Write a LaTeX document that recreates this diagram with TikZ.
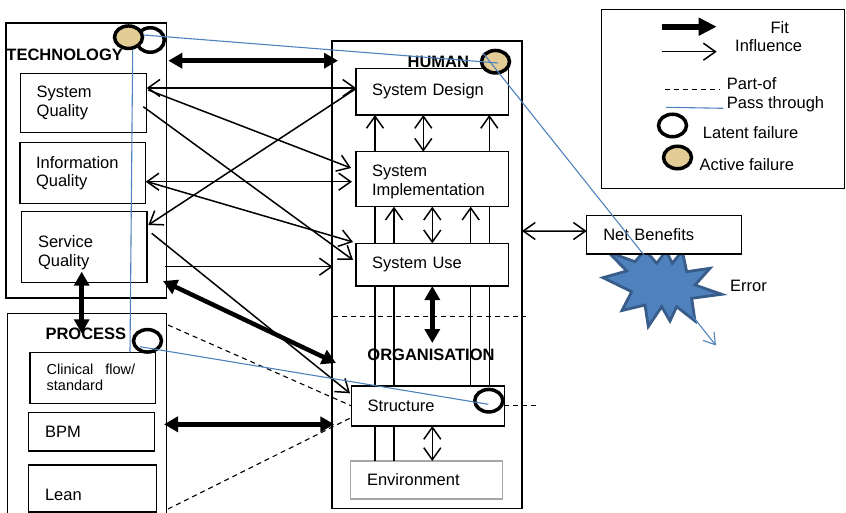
\documentclass[tikz,border=0pt]{standalone}
\usepackage{fontspec}
\setmainfont{Liberation Sans}
\usetikzlibrary{arrows.meta,calc,shapes.geometric}
\definecolor{failtan}{RGB}{228,204,150}
\definecolor{passblue}{RGB}{79,129,189}
\definecolor{starfill}{RGB}{79,129,189}
\definecolor{stardraw}{RGB}{56,93,138}
\tikzset{
  bx/.style={draw, line width=1.4pt, fill=white, rectangle, anchor=north west, outer sep=0pt, align=left, inner ysep=0pt},
  grpbox/.style={draw, line width=1.4pt, rectangle, anchor=north west, outer sep=0pt, inner sep=0pt},
  lbl/.style={font=\fontsize{16.5}{18.5}\selectfont\bfseries, inner sep=0pt},
  txt/.style={inner sep=0pt},
  inf/.style={line width=1.5pt},
  fitarrow/.style={line width=4.5pt, {Triangle[length=14pt,width=15pt]}-{Triangle[length=14pt,width=15pt]}},
  partof/.style={line width=1.1pt, dash pattern=on 5pt off 4pt},
  pass/.style={draw=passblue, line width=1.1pt},
  latent/.style={ellipse, draw, line width=3.5pt, minimum width=28pt, minimum height=22.5pt, inner sep=0pt},
  active/.style={latent, fill=failtan},
}
\begin{document}
\begin{tikzpicture}[x=1pt, y=-1pt, font=\fontsize{16.5}{18.5}\selectfont,
  >={Straight Barb[length=12pt,width=17pt]}]
\useasboundingbox (0,0) rectangle (846,513);

% error star
\draw[draw=stardraw, fill=starfill, line width=2.8pt, line join=miter]
  (603,277.7) -- (626.7,271) -- (608.3,252) -- (635,261.7) -- (645,250) -- (656.7,263.3)
  -- (666,251) -- (672.3,263.3) -- (682.3,251) -- (686.7,271.7) -- (710,268.3) -- (695,285)
  -- (721.7,294.3) -- (691.7,298.3) -- (695,321) -- (676.7,306.7) -- (670,321) -- (661.7,306.7)
  -- (648.3,326.5) -- (645,305) -- (622,310.5) -- (631.7,291.7) -- cycle;

% group boxes
\node[grpbox, minimum width=160.7pt, minimum height=275pt] (tech) at (6,23) {};
\node[grpbox, minimum width=190pt, minimum height=467.3pt] (human) at (332,41) {};
\node[grpbox, minimum width=159.4pt, minimum height=230pt] (proc) at (7.3,313.3) {};
\node[grpbox, minimum width=242.5pt, minimum height=179pt] (legend) at (601.7,9.3) {};

% inner boxes
\node[bx, minimum width=126pt, minimum height=59.4pt, text width=94pt, inner xsep=16pt] (sq) at (20.7,73.3) {System\\Quality};
\node[bx, minimum width=125.7pt, minimum height=60.6pt, text width=93.7pt, inner xsep=16pt] (iq) at (20,142.7) {Information\\Quality};
\node[bx, minimum width=125.7pt, minimum height=70.6pt, text width=92.3pt, inner xsep=16.7pt] (svq) at (21.3,211.7) {\rule{0pt}{23pt}Service\\Quality};
\node[bx, minimum width=152.3pt, minimum height=46.7pt, text width=120.3pt, inner xsep=16pt] (sd) at (356,68.3) {System Design};
\node[bx, minimum width=152.3pt, minimum height=55pt, text width=120.3pt, inner xsep=16pt] (si) at (356,151.7) {\rule{0pt}{17pt}System\\Implementation};
\node[bx, minimum width=152.3pt, minimum height=42.7pt, text width=120.3pt, inner xsep=16pt] (su) at (356,243.3) {System Use};
\node[bx, minimum width=152.6pt, minimum height=40pt, text width=120.6pt, inner xsep=16pt] (st) at (351.7,386) {Structure};
\node[bx, draw=gray!70, minimum width=152pt, minimum height=38pt, text width=119.4pt, inner xsep=16.3pt] (env) at (350.7,461) {Environment};
\node[bx, font=\fontsize{14.5}{16}\selectfont, minimum width=125.7pt, minimum height=51pt, text width=92.3pt, inner xsep=16.7pt] (cf) at (30,352.3) {Clinical\hspace{12pt}flow/\\standard};
\node[bx, minimum width=126pt, minimum height=38.3pt, text width=92.6pt, inner xsep=16.7pt] (bpm) at (28.3,412.7) {BPM};
\node[bx, minimum width=128.4pt, minimum height=47pt, text width=95pt, inner xsep=16.7pt, text height=23pt, text depth=0pt] (lean) at (28.3,465) {Lean};
\node[bx, minimum width=155pt, minimum height=38.3pt, text width=121.8pt, inner xsep=16.6pt] (nb) at (586.7,215.7) {Net Benefits};

% vertical links inside HUMAN / ORGANISATION
\draw[inf,->] ($(si.north west)+(19,0)$) -- ($(sd.south west)+(19,0)$);
\draw[inf,->] ($(si.north west)+(133.3,0)$) -- ($(sd.south west)+(133.3,0)$);
\draw[inf,<->] ($(si.north west)+(67.3,0)$) -- ($(sd.south west)+(67.3,0)$);
\draw[inf] ($(su.north west)+(19,0)$) -- ($(si.south west)+(19,0)$);
\draw[inf,->] ($(su.north west)+(38,0)$) -- ($(si.south west)+(38,0)$);
\draw[inf,<->] ($(su.north west)+(76.3,0)$) -- ($(si.south west)+(76.3,0)$);
\draw[inf,->] ($(su.north west)+(114.7,0)$) -- ($(si.south west)+(114.7,0)$);
\draw[inf] ($(su.north west)+(133.3,0)$) -- ($(si.south west)+(133.3,0)$);
\draw[inf] ($(st.north west)+(23.3,0)$) -- ($(su.south west)+(19,0)$);
\draw[inf] ($(st.north west)+(42.3,0)$) -- ($(su.south west)+(38,0)$);
\draw[inf] ($(st.north west)+(119,0)$) -- ($(su.south west)+(114.7,0)$);
\draw[inf] ($(st.north west)+(137.6,0)$) -- ($(su.south west)+(133.3,0)$);
\draw[inf] ($(st.south west)+(23.3,0)$) -- ($(env.north west)+(24.3,0)$);
\draw[inf] ($(st.south west)+(42.3,0)$) -- ($(env.north west)+(43.3,0)$);
\draw[inf,<->] ($(st.south west)+(80.6,0)$) -- ($(env.north west)+(81.6,0)$);
\draw[fitarrow] ($(su.south west)+(76.3,0)$) -- ($(su.south west)+(76.3,57)$);

% technology <-> human connectors
\draw[inf,<->] ($(sq.north east)+(0,14.7)$) -- ($(sd.north west)+(0,19.7)$);
\draw[inf,->] ($(sq.north east)+(1.6,16.7)$) -- ($(si.north west)+(-5,16.3)$);
\draw[inf,->] ($(sq.north east)+(-3.4,33.4)$) -- ($(su.north west)+(-3,16.7)$);
\draw[inf,<->] ($(iq.north east)+(0,39)$) -- ($(si.north west)+(-4,30)$);
\draw[inf,->] ($(iq.north east)+(2.6,39.3)$) -- ($(su.north west)+(-3,-1.3)$);
\draw[inf,->] ($(sd.north west)+(-1,21)$) -- ($(svq.north east)+(1.3,13.3)$);
\draw[inf,->] ($(svq.north east)+(4.7,21.6)$) -- ($(st.north west)+(-1.7,7.3)$);
\draw[inf,->] ($(tech.south east)+(-1.7,-31.3)$) -- ($(human.north west)+(0.7,225.7)$);
\draw[fitarrow] ($(tech.south east)+(-3.7,-17)$) -- ($(human.north west)+(4,322)$);
\draw[fitarrow] ($(bpm.north east)+(9.7,11.6)$) -- ($(human.north west)+(2.3,383.3)$);
\draw[fitarrow] ($(tech.north east)+(1.6,37.7)$) -- ($(human.north west)+(6,19.7)$);
\draw[fitarrow] ($(svq.south west)+(60.4,-10.6)$) -- ($(proc.north west)+(74.4,20)$);
\draw[inf,<->] ($(human.north west)+(190,190)$) -- ($(nb.west)+(0,-3.8)$);

% part-of dashed lines
\draw[partof] ($(proc.north east)+(1.3,11.7)$) -- ($(st.north west)+(0,20)$);
\draw[partof] ($(proc.north east)+(1.3,195.7)$) -- ($(st.north west)+(1.3,30.7)$);
\draw[partof] ($(human.north west)+(1,275.7)$) -- ($(human.north west)+(194,275.7)$);
\draw[partof] ($(st.north east)+(0,19.7)$) -- ($(st.north east)+(33,19.7)$);

% labels
\node[lbl] (techlbl) at (64.7,55) {TECHNOLOGY};
\node[lbl] (humanlbl) at (438.3,62.2) {HUMAN};
\node[lbl] (orglbl) at (431,355) {ORGANISATION};
\node[lbl] (proclbl) at (85.9,333.8) {PROCESS};
\node[txt, anchor=base west] (errlbl) at (730,291) {Error};

% failure circles
\node[latent, minimum height=24.5pt] (tlat) at (150.3,40) {};
\node[active] (tact) at (128.5,37.2) {};
\node[active] (hact) at (495.5,61.7) {};
\node[latent] (plat) at (147.5,340.8) {};
\node[latent] (slat) at (488.8,400.7) {};

% pass-through lines
\coordinate (errEnd) at (716,345.5);
\draw[pass] ($(tact.center)+(15,-2.2)$) -- ($(hact.center)+(2.5,1.3)$);
\draw[pass, -{Straight Barb[length=11pt,width=14pt]}] ($(hact.center)+(-12.5,-8.7)$) -- (errEnd);
\draw[pass] ($(tact.center)+(4.2,12.8)$) -- ($(cf.north west)+(100,0)$);
\draw[pass] ($(plat.center)+(-7.5,5.9)$) -- ($(slat.center)+(-0.5,3.6)$);

% legend
\coordinate (fitA) at (661.7,26.7);
\coordinate (fitB) at (716.7,26.7);
\coordinate (infA) at (661.7,51.7);
\coordinate (infB) at (716.7,51.7);
\coordinate (partA) at (665,89.3);
\coordinate (partB) at (720,89.3);
\coordinate (passA) at (666,107.3);
\coordinate (passB) at (723.3,108.3);
\draw[line width=6pt, -{Triangle[length=18pt,width=17pt]}] (fitA) -- (fitB);
\draw[inf,->] (infA) -- (infB);
\draw[partof] (partA) -- (partB);
\draw[pass] (passA) -- (passB);
\node[latent] (leglat) at (672.5,125.5) {};
\node[active] (legact) at (677.5,157.5) {};
\node[txt, anchor=base] (lfit) at (779.7,33.3) {Fit};
\node[txt, anchor=base west] (linf) at (735,51.7) {Influence};
\node[txt, anchor=base west] (lpart) at (726.7,89.3) {Part-of};
\node[txt, anchor=base west] (lpass) at (726.7,108.3) {Pass through};
\node[txt, anchor=base west] (llat) at (702.7,138.3) {Latent failure};
\node[txt, anchor=base west] (lact) at (699.3,170.7) {Active failure};
\end{tikzpicture}
\end{document}
